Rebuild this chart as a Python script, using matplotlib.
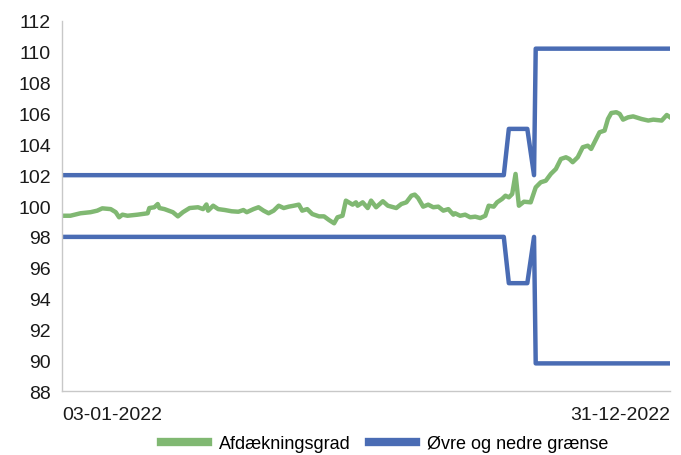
import pandas as pd
import matplotlib
matplotlib.use("Agg")
import matplotlib.pyplot as plt

# Startdato for serien
start = pd.Timestamp("2022-01-03")
end = pd.Timestamp("2022-12-31")

# Afdækningsgrad (dage efter startdato, værdi)
green_day = [0, 5, 11, 17, 21, 24, 29, 32, 34, 36, 39, 45, 51, 52, 55, 57, 58, 61, 66, 69,
             72, 76, 81, 84, 86, 87, 90, 93, 97, 101, 105, 108, 110, 114, 117, 120, 123, 126,
             129, 132, 135, 138, 141, 143, 146, 149, 153, 156, 159, 162, 164, 167, 169, 173,
             175, 176, 179, 182, 184, 187, 191, 194, 199, 202, 205, 208, 210, 212, 215, 218,
             221, 224, 227, 230, 233, 234, 237, 240, 243, 246, 249, 252, 254, 257, 259, 262,
             264, 266, 268, 270, 272, 275, 279, 282, 285, 288, 291, 294, 297, 300, 302, 304,
             307, 310, 313, 315, 318, 320, 323, 325, 327, 330, 332, 334, 337, 340, 345, 349,
             352, 357, 360, 362]
green_val = [99.37, 99.37, 99.53, 99.6, 99.7, 99.85, 99.8, 99.6, 99.27, 99.44, 99.37, 99.44,
             99.53, 99.87, 99.92, 100.13, 99.87, 99.8, 99.6, 99.33, 99.6, 99.87, 99.92, 99.8,
             100.1, 99.7, 100.02, 99.8, 99.74, 99.66, 99.63, 99.74, 99.6, 99.8, 99.92, 99.7,
             99.53, 99.7, 100.02, 99.87, 99.96, 100.02, 100.09, 99.7, 99.8, 99.48, 99.33,
             99.33, 99.09, 98.88, 99.27, 99.37, 100.35, 100.09, 100.24, 100.02, 100.24,
             99.87, 100.35, 99.92, 100.31, 100.02, 99.87, 100.13, 100.24, 100.67, 100.74,
             100.52, 99.96, 100.09, 99.92, 99.96, 99.7, 99.8, 99.44, 99.53, 99.37, 99.44,
             99.27, 99.31, 99.22, 99.37, 100.02, 99.96, 100.24, 100.46, 100.67, 100.56,
             100.78, 102.08, 100.02, 100.28, 100.24, 101.21, 101.54, 101.64, 102.08, 102.4,
             103.05, 103.16, 103.05, 102.84, 103.16, 103.81, 103.91, 103.7, 104.35, 104.78,
             104.89, 105.64, 106.03, 106.08, 105.97, 105.6, 105.75, 105.81, 105.64, 105.54,
             105.6, 105.54, 105.9, 105.75]

# Øvre og nedre grænse (knækpunkter)
band_day = [0, 263, 266, 277, 281, 282, 362]
upper = [102, 102, 105, 105, 102, 110.2, 110.2]
lower = [98, 98, 95, 95, 98, 89.8, 89.8]

green_color = "#80b872"
blue_color = "#4a6cb4"

green_x = start + pd.to_timedelta(green_day, unit="D")
band_x = start + pd.to_timedelta(band_day, unit="D")

plt.rcParams["font.family"] = ["Liberation Sans", "DejaVu Sans"]

fig = plt.figure(figsize=(6.81, 4.56), dpi=100)
ax = fig.add_axes([0.091, 0.140, 0.893, 0.812])

ax.plot(band_x, upper, color=blue_color, lw=3.2, solid_joinstyle="round")
ax.plot(band_x, lower, color=blue_color, lw=3.2, solid_joinstyle="round")
ax.plot(green_x, green_val, color=green_color, lw=3.2, solid_joinstyle="round")

ax.set_ylim(88, 112)
ax.set_yticks(range(88, 113, 2))
ax.set_xlim(start, end)
ax.set_xticks([start, end])
ax.set_xticklabels([start.strftime("%d-%m-%Y"), end.strftime("%d-%m-%Y")])
labels = ax.get_xticklabels()
labels[0].set_horizontalalignment("left")
labels[1].set_horizontalalignment("right")

ax.tick_params(axis="both", length=0, labelsize=14, colors="#1a1a1a")
ax.tick_params(axis="x", pad=11)
ax.tick_params(axis="y", pad=8)

for side in ["top", "right"]:
    ax.spines[side].set_visible(False)
for side in ["left", "bottom"]:
    ax.spines[side].set_color("#c8c8c8")
    ax.spines[side].set_linewidth(1)

handles = [plt.Line2D([], [], color=green_color, lw=6),
           plt.Line2D([], [], color=blue_color, lw=6)]
fig.legend(handles, ["Afdækningsgrad", "Øvre og nedre grænse"],
           loc="lower center", bbox_to_anchor=(0.565, -0.03), ncol=2, frameon=False,
           fontsize=13, handlelength=2.6, columnspacing=1.0, handletextpad=0.6)

fig.savefig("out.png", dpi=100)
